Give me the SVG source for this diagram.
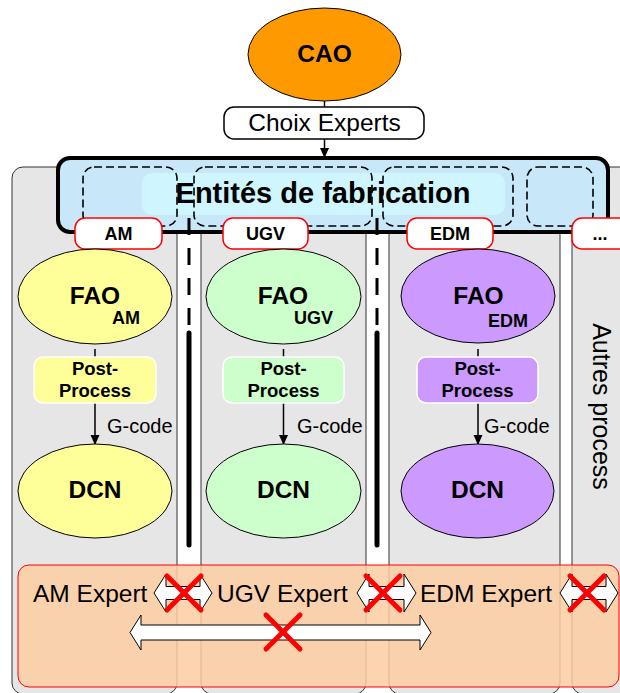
<svg xmlns="http://www.w3.org/2000/svg" width="620" height="693" viewBox="0 0 620 693">
<style>
text{font-family:"Liberation Sans",Arial,sans-serif;fill:#000}
.b{font-weight:bold}
.lane{fill:#E6E6E6;stroke:#333;stroke-width:1}
.lbl{fill:#fff;stroke:#FF0000;stroke-width:1.5}
.dash{fill:none;stroke:#000;stroke-width:1.6;stroke-dasharray:8 4}
.ell{stroke:#000;stroke-width:1}
.pp{stroke:#fff;stroke-width:1.5}
.ln{stroke:#000;stroke-width:1.5;fill:none}
.road{stroke:#000;stroke-width:3;stroke-dasharray:17 13}
.roads{stroke:#000;stroke-width:5;stroke-linecap:round}
.arr{fill:#fff;stroke:#000;stroke-width:1}
.x{stroke:#FF0000;stroke-width:5;stroke-linecap:round}
</style>
<defs>
<marker id="ah" markerWidth="10" markerHeight="10" refX="9" refY="5" orient="auto" markerUnits="userSpaceOnUse">
<path d="M0,0.5 L10,5 L0,9.5 Z" fill="#000"/>
</marker>
</defs>

<g id="lanes">
<rect class="lane" x="12" y="167" width="165" height="527" rx="11"/>
<rect class="lane" x="201" y="167" width="165" height="527" rx="11"/>
<rect class="lane" x="389" y="167" width="171" height="527" rx="11"/>
<rect class="lane" x="572" y="167" width="80" height="527" rx="11"/>
</g>

<g id="autres">
<text transform="translate(593,406.5) rotate(90)" text-anchor="middle" font-size="25">Autres process</text>
</g>

<g id="cao">
<ellipse class="ell" cx="324.5" cy="54.5" rx="76.5" ry="46.5" fill="#FF9900"/>
<text class="b" x="324.5" y="62" text-anchor="middle" font-size="24.5">CAO</text>
</g>

<g id="choix">
<rect x="224" y="107" width="200" height="32" rx="10" fill="#fff" stroke="#000" stroke-width="1.5"/>
<text x="324.5" y="131" text-anchor="middle" font-size="24.5">Choix Experts</text>
</g>

<g id="entites">
<rect x="58" y="158" width="550" height="74" rx="12" fill="#C8E7F8" stroke="#000" stroke-width="4"/>
<rect x="142" y="173" width="363" height="42" rx="10" fill="#CFF6FF"/>
<rect class="dash" x="83" y="167" width="94" height="59" rx="11"/>
<rect class="dash" x="194" y="167" width="178" height="59" rx="11"/>
<rect class="dash" x="383" y="167" width="130" height="59" rx="11"/>
<rect class="dash" x="527" y="167" width="66" height="59" rx="11"/>
<text class="b" x="323" y="203" text-anchor="middle" font-size="29">Entités de fabrication</text>
</g>

<g id="roads">
<line class="road" x1="189" y1="218" x2="189" y2="326"/>
<line class="roads" x1="189" y1="333" x2="189" y2="545"/>
<line class="road" x1="377" y1="218" x2="377" y2="326"/>
<line class="roads" x1="377" y1="333" x2="377" y2="545"/>
</g>

<g id="label-am"><rect class="lbl" x="75" y="218" width="87" height="31" rx="10"/><text class="b" x="118.5" y="240" text-anchor="middle" font-size="18">AM</text></g>
<g id="label-ugv"><rect class="lbl" x="223" y="218" width="85" height="31" rx="10"/><text class="b" x="265.5" y="240" text-anchor="middle" font-size="18">UGV</text></g>
<g id="label-edm"><rect class="lbl" x="407" y="218" width="86" height="31" rx="10"/><text class="b" x="450" y="240" text-anchor="middle" font-size="18">EDM</text></g>
<g id="label-other"><rect class="lbl" x="572" y="218" width="86" height="31" rx="10"/><text class="b" x="600" y="240" text-anchor="middle" font-size="18">...</text></g>

<g id="connectors">
<line class="ln" x1="324.5" y1="101" x2="324.5" y2="107"/>
<line class="ln" x1="324.5" y1="139" x2="324.5" y2="157" marker-end="url(#ah)"/>
<line class="ln" x1="95" y1="349" x2="95" y2="357"/>
<line class="ln" x1="95" y1="403" x2="95" y2="444" marker-end="url(#ah)"/>
<line class="ln" x1="283.5" y1="349" x2="283.5" y2="357"/>
<line class="ln" x1="283.5" y1="403" x2="283.5" y2="444" marker-end="url(#ah)"/>
<line class="ln" x1="478" y1="349" x2="478" y2="357"/>
<line class="ln" x1="478" y1="403" x2="478" y2="444" marker-end="url(#ah)"/>
<text x="107" y="433" font-size="20">G-code</text>
<text x="297" y="433" font-size="20">G-code</text>
<text x="484" y="433" font-size="20">G-code</text>
</g>

<g id="fao-am">
<ellipse class="ell" cx="95" cy="296.5" rx="77" ry="47.5" fill="#FFFF99"/>
<text class="b" x="95" y="304" text-anchor="middle" font-size="24.5">FAO</text>
<text class="b" x="140" y="324" text-anchor="end" font-size="18">AM</text>
</g>
<g id="fao-ugv">
<ellipse class="ell" cx="283.5" cy="296.5" rx="77.5" ry="47.5" fill="#CCFFCC"/>
<text class="b" x="283" y="304" text-anchor="middle" font-size="24.5">FAO</text>
<text class="b" x="333" y="324" text-anchor="end" font-size="18">UGV</text>
</g>
<g id="fao-edm">
<ellipse class="ell" cx="478" cy="296" rx="77" ry="47" fill="#CC99FF"/>
<text class="b" x="478.5" y="304" text-anchor="middle" font-size="24.5">FAO</text>
<text class="b" x="528" y="327" text-anchor="end" font-size="18">EDM</text>
</g>

<g id="pp-am">
<rect class="pp" x="34" y="357" width="122" height="46" rx="9" fill="#FFFF99"/>
<text class="b" x="95" y="375" text-anchor="middle" font-size="18.5">Post-</text>
<text class="b" x="95" y="397" text-anchor="middle" font-size="18.5">Process</text>
</g>
<g id="pp-ugv">
<rect class="pp" x="223" y="357" width="121" height="46" rx="9" fill="#CCFFCC"/>
<text class="b" x="283.5" y="375" text-anchor="middle" font-size="18.5">Post-</text>
<text class="b" x="283.5" y="397" text-anchor="middle" font-size="18.5">Process</text>
</g>
<g id="pp-edm">
<rect class="pp" x="417" y="357" width="121" height="46" rx="9" fill="#CC99FF"/>
<text class="b" x="477.5" y="375" text-anchor="middle" font-size="18.5">Post-</text>
<text class="b" x="477.5" y="397" text-anchor="middle" font-size="18.5">Process</text>
</g>

<g id="dcn-am">
<ellipse class="ell" cx="95" cy="491" rx="77" ry="47" fill="#FFFF99"/>
<text class="b" x="95" y="498" text-anchor="middle" font-size="24.5">DCN</text>
</g>
<g id="dcn-ugv">
<ellipse class="ell" cx="283.5" cy="491" rx="77.5" ry="47" fill="#CCFFCC"/>
<text class="b" x="283.5" y="498" text-anchor="middle" font-size="24.5">DCN</text>
</g>
<g id="dcn-edm">
<ellipse class="ell" cx="477.5" cy="491" rx="76.5" ry="47" fill="#CC99FF"/>
<text class="b" x="477.5" y="498" text-anchor="middle" font-size="24.5">DCN</text>
</g>

<g id="experts">
<rect x="18" y="565" width="601" height="122" rx="11" fill="#FDCDA2" fill-opacity="0.85" stroke="#FF0000" stroke-width="1"/>
<text x="33" y="602" font-size="24.5">AM Expert</text>
<text x="217" y="602" font-size="24.5">UGV Expert</text>
<text x="420" y="602" font-size="24.5">EDM Expert</text>
</g>

<g id="links">
<polygon class="arr" points="154,593 166,574 166,586.5 200,586.5 200,574 212,593 200,612 200,599.5 166,599.5 166,612"/>
<polygon class="arr" points="357,593 369,574 369,586.5 404,586.5 404,574 416,593 404,612 404,599.5 369,599.5 369,612"/>
<polygon class="arr" points="560,593 572,574 572,586.5 606,586.5 606,574 618,593 606,612 606,599.5 572,599.5 572,612"/>
<polygon class="arr" points="130,632.5 141,615 141,625 420,625 420,615 431,632.5 420,650 420,640 141,640 141,650"/>
<line class="x" x1="167" y1="576" x2="201" y2="610"/><line class="x" x1="201" y1="576" x2="167" y2="610"/>
<line class="x" x1="366" y1="576" x2="400" y2="610"/><line class="x" x1="400" y1="576" x2="366" y2="610"/>
<line class="x" x1="570" y1="576" x2="604" y2="610"/><line class="x" x1="604" y1="576" x2="570" y2="610"/>
<line class="x" x1="266" y1="615" x2="300" y2="649"/><line class="x" x1="300" y1="615" x2="266" y2="649"/>
</g>
</svg>
